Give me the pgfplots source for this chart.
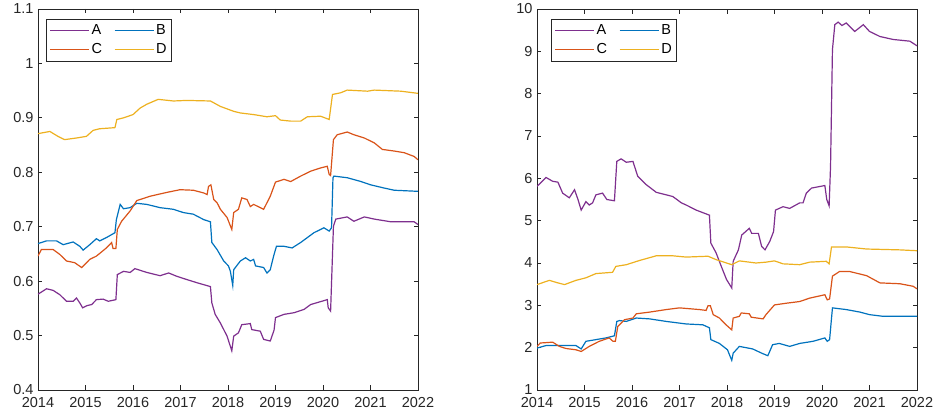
\documentclass[border=0pt]{standalone}
\usepackage{fontspec}
\setmainfont{Liberation Sans}
\usepackage{pgfplots}
\pgfplotsset{compat=1.18}
\definecolor{cA}{rgb}{0.494,0.184,0.556}
\definecolor{cB}{rgb}{0,0.447,0.741}
\definecolor{cC}{rgb}{0.850,0.325,0.098}
\definecolor{cD}{rgb}{0.929,0.694,0.125}
\definecolor{axc}{rgb}{0.15,0.15,0.15}
\pgfplotsset{
  mystyle/.style={
    scale only axis, width=380pt, height=381pt,
    xmin=2014, xmax=2022, xtick={2014,2015,2016,2017,2018,2019,2020,2021,2022},
    /pgf/number format/assume math mode=true,
    /pgf/number format/set thousands separator={},
    tick align=inside, tick pos=both, major tick length=4.5pt,
    axis line style={color=axc, line width=0.75pt},
    every tick/.style={color=axc, line width=0.75pt},
    ticklabel style={text=axc, font=\fontsize{14.5}{17}\selectfont},
    xticklabel style={yshift=-4pt},
    yticklabel style={xshift=-1pt},
    legend columns=2,
    legend cell align=left,
    legend image code/.code={\draw[##1] (0pt,0pt) -- (39pt,0pt);},
    legend style={draw=axc, line width=0.75pt, fill=white, font=\fontsize{14.5}{16}\selectfont,
      anchor=north west, inner xsep=3pt, inner ysep=2pt,
      /tikz/every even column/.append style={column sep=10pt},
      nodes={inner xsep=2pt, inner ysep=2.5pt, text height=11pt, text depth=3pt, text=black}},
    every axis plot/.append style={line width=1.2pt, no markers, sharp plot},
  }
}
\begin{document}
\begin{tikzpicture}
\useasboundingbox (-38pt,-27pt) rectangle (896pt,390pt);
\begin{axis}[mystyle, at={(0pt,0pt)}, anchor=south west, ymin=0.4, ymax=1.1,
  ytick={0.4,0.5,0.6,0.7,0.8,0.9,1,1.1}, yticklabels={0.4,0.5,0.6,0.7,0.8,0.9,1,1.1},
  legend style={at={(0.021,0.974)}}]
\addplot[cA] coordinates {
(2014.00,0.576)(2014.18,0.586)(2014.32,0.583)(2014.46,0.575)(2014.60,0.563)(2014.74,0.563)(2014.81,0.569)(2014.88,0.560)(2014.94,0.551)(2015.03,0.555)(2015.13,0.557)(2015.23,0.566)(2015.37,0.567)(2015.48,0.563)(2015.64,0.566)(2015.67,0.612)(2015.80,0.618)(2015.94,0.616)(2016.04,0.623)(2016.29,0.616)(2016.57,0.610)(2016.75,0.615)(2016.92,0.609)(2017.13,0.603)(2017.35,0.597)(2017.63,0.590)(2017.66,0.560)(2017.73,0.539)(2017.84,0.523)(2017.98,0.499)(2018.08,0.472)(2018.12,0.499)(2018.22,0.505)(2018.29,0.520)(2018.47,0.522)(2018.50,0.511)(2018.68,0.508)(2018.75,0.493)(2018.89,0.490)(2018.97,0.510)(2019.00,0.533)(2019.18,0.539)(2019.39,0.542)(2019.60,0.548)(2019.74,0.557)(2020.09,0.566)(2020.11,0.551)(2020.16,0.545)(2020.22,0.701)(2020.27,0.714)(2020.51,0.718)(2020.65,0.710)(2020.87,0.718)(2021.08,0.714)(2021.43,0.709)(2021.92,0.709)(2022.00,0.704)};
\addlegendentry{A}
\addplot[cB] coordinates {
(2014.00,0.669)(2014.18,0.674)(2014.39,0.674)(2014.53,0.667)(2014.74,0.672)(2014.88,0.664)(2014.95,0.657)(2015.09,0.667)(2015.23,0.678)(2015.30,0.674)(2015.44,0.680)(2015.62,0.689)(2015.65,0.713)(2015.73,0.741)(2015.80,0.733)(2015.94,0.735)(2016.08,0.743)(2016.29,0.741)(2016.57,0.735)(2016.85,0.732)(2017.06,0.726)(2017.27,0.723)(2017.49,0.713)(2017.63,0.709)(2017.66,0.671)(2017.77,0.658)(2017.91,0.637)(2018.01,0.628)(2018.05,0.618)(2018.10,0.592)(2018.12,0.621)(2018.26,0.637)(2018.37,0.643)(2018.47,0.637)(2018.54,0.640)(2018.58,0.628)(2018.75,0.625)(2018.82,0.615)(2018.89,0.621)(2018.96,0.646)(2019.02,0.664)(2019.18,0.664)(2019.35,0.661)(2019.53,0.671)(2019.81,0.689)(2020.02,0.698)(2020.13,0.692)(2020.18,0.698)(2020.21,0.790)(2020.23,0.793)(2020.51,0.790)(2020.80,0.783)(2021.00,0.777)(2021.29,0.771)(2021.50,0.767)(2022.00,0.765)};
\addlegendentry{B}
\addplot[cC] coordinates {
(2014.00,0.646)(2014.07,0.658)(2014.32,0.658)(2014.46,0.649)(2014.60,0.637)(2014.77,0.634)(2014.92,0.625)(2015.09,0.640)(2015.23,0.646)(2015.44,0.661)(2015.55,0.671)(2015.58,0.660)(2015.64,0.660)(2015.67,0.695)(2015.76,0.710)(2015.94,0.729)(2016.08,0.748)(2016.36,0.756)(2016.71,0.763)(2016.99,0.768)(2017.27,0.767)(2017.49,0.762)(2017.56,0.759)(2017.59,0.774)(2017.64,0.777)(2017.70,0.750)(2017.77,0.744)(2017.84,0.732)(2017.98,0.717)(2018.08,0.695)(2018.12,0.726)(2018.22,0.732)(2018.29,0.753)(2018.40,0.750)(2018.47,0.737)(2018.54,0.741)(2018.75,0.732)(2018.82,0.744)(2018.89,0.756)(2019.00,0.782)(2019.18,0.787)(2019.32,0.783)(2019.53,0.793)(2019.74,0.802)(2019.95,0.808)(2020.09,0.811)(2020.13,0.796)(2020.16,0.794)(2020.22,0.860)(2020.30,0.869)(2020.51,0.874)(2020.65,0.869)(2020.87,0.863)(2021.08,0.854)(2021.25,0.842)(2021.50,0.839)(2021.71,0.836)(2021.92,0.829)(2022.00,0.823)};
\addlegendentry{C}
\addplot[cD] coordinates {
(2014.00,0.871)(2014.25,0.875)(2014.42,0.866)(2014.56,0.860)(2014.81,0.863)(2015.02,0.866)(2015.16,0.877)(2015.30,0.880)(2015.62,0.882)(2015.66,0.897)(2015.80,0.900)(2016.00,0.906)(2016.15,0.918)(2016.29,0.925)(2016.53,0.934)(2016.85,0.931)(2017.13,0.932)(2017.63,0.931)(2017.84,0.921)(2018.12,0.912)(2018.26,0.909)(2018.54,0.906)(2018.82,0.902)(2019.00,0.904)(2019.10,0.896)(2019.32,0.894)(2019.53,0.894)(2019.67,0.902)(2019.95,0.903)(2020.13,0.897)(2020.20,0.943)(2020.37,0.946)(2020.51,0.951)(2020.94,0.949)(2021.08,0.951)(2021.64,0.949)(2022.00,0.945)};
\addlegendentry{D}
\end{axis}
\begin{axis}[mystyle, at={(499pt,0pt)}, anchor=south west, ymin=1, ymax=10,
  ytick={1,2,3,4,5,6,7,8,9,10},
  legend style={at={(0.037,0.974)}}]
\addplot[cA] coordinates {
(2014.00,5.81)(2014.19,6.02)(2014.33,5.93)(2014.44,5.91)(2014.54,5.65)(2014.68,5.54)(2014.79,5.73)(2014.86,5.51)(2014.93,5.25)(2015.03,5.45)(2015.10,5.37)(2015.17,5.42)(2015.24,5.61)(2015.38,5.65)(2015.47,5.50)(2015.63,5.47)(2015.68,6.40)(2015.77,6.46)(2015.88,6.38)(2016.02,6.40)(2016.12,6.05)(2016.30,5.85)(2016.51,5.67)(2016.72,5.61)(2016.86,5.57)(2017.04,5.42)(2017.14,5.37)(2017.35,5.25)(2017.49,5.19)(2017.63,5.13)(2017.66,4.47)(2017.77,4.24)(2017.88,3.92)(2017.99,3.61)(2018.10,3.41)(2018.13,4.04)(2018.24,4.31)(2018.31,4.66)(2018.47,4.82)(2018.52,4.70)(2018.66,4.70)(2018.73,4.39)(2018.80,4.31)(2018.90,4.51)(2018.98,4.74)(2019.02,5.25)(2019.18,5.33)(2019.32,5.29)(2019.53,5.42)(2019.60,5.42)(2019.67,5.65)(2019.78,5.77)(2020.06,5.83)(2020.10,5.50)(2020.15,5.35)(2020.18,6.29)(2020.22,9.04)(2020.27,9.63)(2020.34,9.69)(2020.42,9.61)(2020.51,9.67)(2020.69,9.47)(2020.87,9.63)(2021.00,9.47)(2021.22,9.35)(2021.50,9.28)(2021.85,9.24)(2022.00,9.13)};
\addlegendentry{A}
\addplot[cB] coordinates {
(2014.00,1.99)(2014.19,2.05)(2014.47,2.05)(2014.82,2.05)(2014.93,1.97)(2015.03,2.15)(2015.24,2.19)(2015.45,2.23)(2015.63,2.28)(2015.68,2.62)(2015.74,2.64)(2015.88,2.62)(2016.09,2.70)(2016.37,2.68)(2016.72,2.62)(2017.14,2.56)(2017.49,2.54)(2017.63,2.47)(2017.66,2.19)(2017.84,2.10)(2018.01,1.95)(2018.10,1.70)(2018.13,1.87)(2018.26,2.03)(2018.54,1.97)(2018.75,1.86)(2018.86,1.81)(2018.96,2.07)(2019.10,2.10)(2019.32,2.03)(2019.53,2.10)(2019.81,2.15)(2020.06,2.23)(2020.11,2.15)(2020.16,2.19)(2020.22,2.94)(2020.51,2.90)(2020.80,2.84)(2021.00,2.78)(2021.29,2.74)(2022.00,2.74)};
\addlegendentry{B}
\addplot[cC] coordinates {
(2014.00,2.03)(2014.07,2.11)(2014.33,2.13)(2014.47,2.03)(2014.61,1.98)(2014.82,1.95)(2014.93,1.91)(2015.10,2.03)(2015.31,2.15)(2015.52,2.23)(2015.60,2.15)(2015.65,2.15)(2015.70,2.50)(2015.84,2.66)(2016.02,2.70)(2016.09,2.80)(2016.37,2.84)(2016.72,2.90)(2017.00,2.94)(2017.42,2.90)(2017.56,2.88)(2017.60,2.99)(2017.65,2.99)(2017.71,2.78)(2017.84,2.70)(2017.98,2.54)(2018.10,2.42)(2018.13,2.70)(2018.26,2.74)(2018.30,2.82)(2018.47,2.80)(2018.51,2.72)(2018.76,2.68)(2018.82,2.78)(2019.00,3.01)(2019.25,3.05)(2019.53,3.09)(2019.74,3.17)(2020.06,3.25)(2020.11,3.13)(2020.16,3.15)(2020.22,3.69)(2020.37,3.80)(2020.58,3.80)(2020.94,3.70)(2021.22,3.53)(2021.64,3.51)(2021.92,3.45)(2022.00,3.39)};
\addlegendentry{C}
\addplot[cD] coordinates {
(2014.00,3.49)(2014.26,3.59)(2014.44,3.53)(2014.58,3.49)(2014.82,3.59)(2015.03,3.65)(2015.24,3.75)(2015.59,3.78)(2015.66,3.92)(2015.88,3.96)(2016.16,4.06)(2016.51,4.17)(2016.86,4.17)(2017.14,4.14)(2017.60,4.16)(2017.77,4.08)(2018.10,3.96)(2018.26,4.05)(2018.61,4.00)(2018.82,4.02)(2019.00,4.05)(2019.18,3.98)(2019.53,3.96)(2019.74,4.02)(2020.09,4.04)(2020.15,3.98)(2020.20,4.38)(2020.51,4.38)(2020.94,4.33)(2021.64,4.31)(2022.00,4.29)};
\addlegendentry{D}
\end{axis}
\end{tikzpicture}
\end{document}
